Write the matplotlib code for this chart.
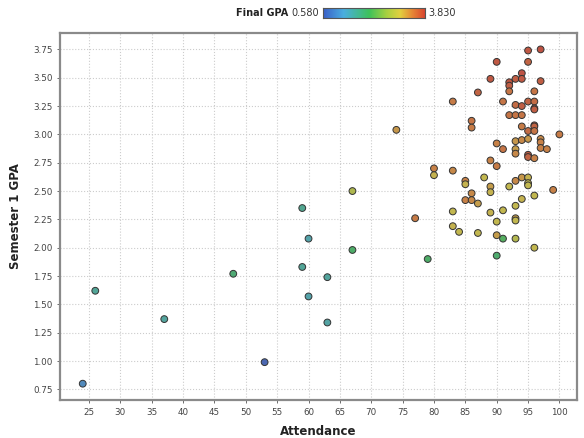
import matplotlib
matplotlib.use("Agg")
import matplotlib.pyplot as plt
import numpy as np
from matplotlib.colors import LinearSegmentedColormap, Normalize

# students: attendance (%), semester 1 GPA, final GPA (colour)
attendance = [24, 26, 37, 48, 53, 59, 59, 60, 60, 63, 63, 67, 67, 74, 77, 79,
              80, 80,
              95, 97, 90, 95, 89, 92, 92, 92, 93, 94, 94, 97, 87, 96, 83, 91,
              93, 94, 95, 96, 96, 96, 86, 86, 92, 93, 94, 94, 95, 96, 96, 96,
              100, 97, 97, 97, 98, 90, 93, 93, 93, 94, 95, 91, 95, 95, 96, 89,
              90, 83, 85, 85, 88, 89, 89, 92, 93, 94, 95, 95, 95, 96, 99, 86,
              85, 86, 87, 94, 93, 83, 89, 91, 93, 93, 90, 83, 84, 87, 90, 91,
              93, 96, 90]
sem1_gpa = [0.80, 1.62, 1.37, 1.77, 0.99, 2.35, 1.83, 2.08, 1.57, 1.74, 1.34,
            2.50, 1.98, 3.04, 2.26, 1.90, 2.70, 2.64,
            3.74, 3.75, 3.64, 3.64, 3.49, 3.46, 3.43, 3.38, 3.49, 3.54, 3.49,
            3.47, 3.37, 3.38, 3.29, 3.29, 3.26, 3.25, 3.29, 3.29, 3.23, 3.22,
            3.12, 3.06, 3.17, 3.17, 3.17, 3.07, 3.03, 3.08, 3.07, 3.03,
            3.00, 2.96, 2.93, 2.88, 2.87, 2.92, 2.94, 2.87, 2.83, 2.95, 2.96,
            2.87, 2.82, 2.80, 2.79, 2.77, 2.72, 2.68, 2.59, 2.56, 2.62, 2.54,
            2.49, 2.54, 2.59, 2.62, 2.62, 2.57, 2.55, 2.46, 2.51, 2.48, 2.42,
            2.42, 2.39, 2.43, 2.37, 2.32, 2.31, 2.33, 2.26, 2.24, 2.23, 2.19,
            2.14, 2.13, 2.11, 2.08, 2.08, 2.00, 1.93]
final_gpa = [1.00, 1.60, 1.55, 1.90, 0.60, 1.65, 1.60, 1.45, 1.45, 1.55, 1.50,
             2.80, 2.00, 3.25, 3.45, 2.00, 3.40, 3.05,
             3.75, 3.80, 3.75, 3.65, 3.75, 3.75, 3.70, 3.50, 3.70, 3.80, 3.75,
             3.70, 3.65, 3.50, 3.45, 3.50, 3.58, 3.70, 3.65, 3.58, 3.75, 3.70,
             3.50, 3.45, 3.50, 3.50, 3.50, 3.45, 3.58, 3.70, 3.65, 3.50,
             3.45, 3.35, 3.40, 3.40, 3.40, 3.40, 3.25, 3.20, 3.35, 3.35, 3.25,
             3.50, 3.70, 3.65, 3.40, 3.40, 3.45, 3.35, 3.40, 3.05, 3.00, 3.20,
             3.05, 3.00, 3.35, 3.25, 3.05, 3.00, 3.00, 3.00, 3.40, 3.35, 3.40,
             3.35, 3.20, 3.05, 3.00, 3.00, 3.05, 3.00, 3.20, 3.00, 3.00, 3.05,
             3.00, 3.00, 3.20, 2.10, 2.85, 3.00, 1.95]

GPA_MIN, GPA_MAX = 0.58, 3.83

cmap = LinearSegmentedColormap.from_list("gpa", [
    (0.00, "#3a5fc8"), (0.20, "#4aaee0"), (0.45, "#3ec25a"),
    (0.62, "#a8d040"), (0.75, "#e2d040"), (0.88, "#e68034"),
    (1.00, "#d8402e")])
norm = Normalize(GPA_MIN, GPA_MAX)

fig = plt.figure(figsize=(5.84, 4.38), dpi=100)
ax = fig.add_axes([0.103, 0.087, 0.885, 0.838])

# points are drawn washed-out, like the original tool does
cols = cmap(norm(np.array(final_gpa)))
cols[:, :3] = cols[:, :3] * 0.72 + 0.13
ax.scatter(attendance, sem1_gpa, s=24, c=cols, edgecolors="#333333",
           linewidths=0.7, zorder=3)

ax.set_xlim(20.4, 102.8)
ax.set_ylim(0.657, 3.896)
ax.set_xticks(np.arange(25, 101, 5))
ax.set_yticks(np.arange(0.75, 3.76, 0.25))
ax.set_yticklabels([f"{v:.2f}" for v in np.arange(0.75, 3.76, 0.25)])
ax.tick_params(labelsize=6.3, colors="#555555", length=2, width=0.6,
               labelcolor="#444444")
ax.grid(True, color="#cccccc", ls=":", lw=0.8)
ax.set_axisbelow(True)
for sp in ax.spines.values():
    sp.set_color("#8a8a8a")
    sp.set_linewidth(1.6)

ax.set_xlabel("Attendance", fontsize=8.5, fontweight="bold", color="#222222",
              labelpad=6)
ax.set_ylabel("Semester 1 GPA", fontsize=8.5, fontweight="bold",
              color="#222222", labelpad=8)

# colour legend on top
cax = fig.add_axes([0.553, 0.959, 0.175, 0.022])
grad = np.linspace(0, 1, 256)[None, :]
cax.imshow(grad, aspect="auto", cmap=cmap)
cax.set_xticks([])
cax.set_yticks([])
for sp in cax.spines.values():
    sp.set_color("#555555")
    sp.set_linewidth(0.8)
fig.text(0.547, 0.970, f"{GPA_MIN:.3f}", ha="right", va="center",
         fontsize=7, color="#333333")
fig.text(0.493, 0.970, "Final GPA", ha="right", va="center", fontsize=7,
         fontweight="bold", color="#222222")
fig.text(0.733, 0.970, f"{GPA_MAX:.3f}", ha="left", va="center",
         fontsize=7, color="#333333")

fig.savefig("out.png", dpi=100)
